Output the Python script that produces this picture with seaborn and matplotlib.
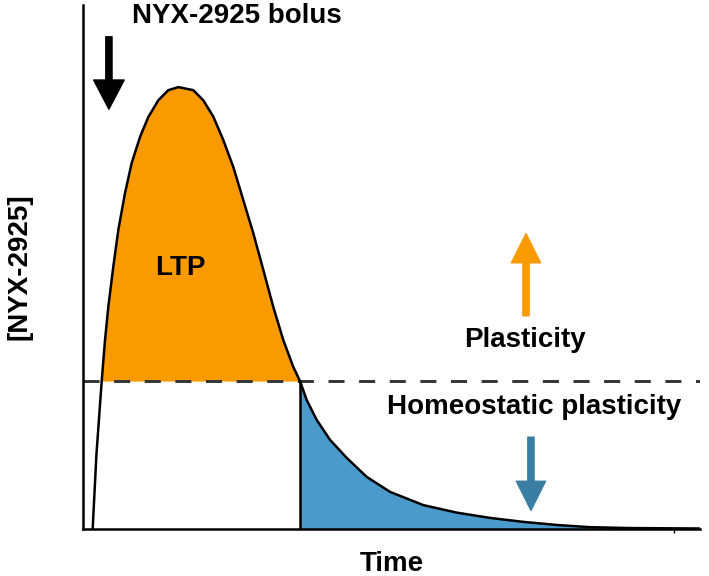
import numpy as np
import pandas as pd
import matplotlib.pyplot as plt
import seaborn as sns

# curve (arbitrary time / concentration units)
time = [0.157, 0.217, 0.303, 0.357, 0.410, 0.491, 0.572, 0.681, 0.789, 0.924,
        1.058, 1.220, 1.382, 1.545, 1.788, 1.950, 2.112, 2.274, 2.436, 2.598,
        2.760, 2.922, 3.084, 3.246, 3.408, 3.517, 3.626, 3.788, 4.003, 4.274,
        4.598, 4.976, 5.515, 6.057, 6.596, 7.136, 7.677, 8.217, 8.865, 10.000]
conc = [0.000, 0.166, 0.334, 0.427, 0.502, 0.593, 0.676, 0.760, 0.828, 0.887,
        0.932, 0.970, 0.993, 1.000, 0.993, 0.970, 0.933, 0.880, 0.819, 0.744,
        0.669, 0.586, 0.502, 0.427, 0.366, 0.334, 0.291, 0.246, 0.201, 0.160,
        0.117, 0.083, 0.053, 0.036, 0.024, 0.015, 0.008, 0.003, 0.001, 0.000]
threshold = 0.334
t_cross = 3.517

df = pd.DataFrame({'Time': time, 'Conc': conc})
t = df['Time'].to_numpy()
c = df['Conc'].to_numpy()

orange = '#F99A00'
blue_fill = '#4A9BCB'
blue_arrow = '#3B7EA3'

sns.set_style('white')
plt.rcParams['font.family'] = ['Liberation Sans', 'DejaVu Sans']
plt.rcParams['text.color'] = 'black'
plt.rcParams['axes.labelcolor'] = 'black'

fig, ax = plt.subplots(figsize=(7.09, 5.76), dpi=100)
fig.subplots_adjust(left=83/709, right=700/709, bottom=1-528.5/576, top=1-5/576)

# LTP area above threshold, homeostatic area after crossing
ax.fill_between(t, c, threshold, where=c >= threshold, interpolate=True,
                color=orange, lw=0, zorder=1)
ax.fill_between(t, c, 0, where=t >= t_cross, interpolate=True,
                color=blue_fill, lw=0, zorder=1)

ax.axhline(threshold, color='#333333', lw=2.1, ls=(0, (5.5, 5)), zorder=2)
ax.vlines(t_cross, 0, threshold, color='black', lw=1.8, zorder=3)

sns.lineplot(data=df, x='Time', y='Conc', color='black', lw=1.8,
             estimator=None, sort=True, ax=ax, zorder=4)

ax.set_xlim(0, 10)
ax.set_ylim(0, 1.186)

# arrows
ax.annotate('', xy=(0.42, 0.95), xytext=(0.42, 1.114),
            arrowprops=dict(width=4.5, headwidth=22, headlength=21,
                            color='black', shrink=0))
ax.annotate('', xy=(7.18, 0.668), xytext=(7.18, 0.482),
            arrowprops=dict(width=4.5, headwidth=21, headlength=21,
                            color=orange, shrink=0))
ax.annotate('', xy=(7.26, 0.041), xytext=(7.26, 0.207),
            arrowprops=dict(width=4.5, headwidth=21, headlength=21,
                            color=blue_arrow, shrink=0))

# text
ax.text(2.50, 1.162, 'NYX-2925 bolus', fontsize=20, fontweight='bold',
        ha='center', va='center')
ax.text(1.572, 0.591, 'LTP', fontsize=20, fontweight='bold',
        ha='center', va='center')
ax.text(7.16, 0.427, 'Plasticity', fontsize=20, fontweight='bold',
        ha='center', va='center')
ax.text(7.31, 0.275, 'Homeostatic plasticity', fontsize=20, fontweight='bold',
        ha='center', va='center')

ax.set_xlabel('Time', fontsize=20, fontweight='bold', labelpad=10)
ax.set_ylabel('[NYX-2925]', fontsize=20, fontweight='bold', labelpad=36)

ax.set_xticks([9.58])
ax.set_xticklabels([''])
ax.set_yticks([])
ax.tick_params(axis='x', direction='out', length=3, width=1, color='black', bottom=True)

for side in ['top', 'right']:
    ax.spines[side].set_visible(False)
for side in ['left', 'bottom']:
    ax.spines[side].set_color('black')
    ax.spines[side].set_linewidth(1.8)

plt.savefig('out.png', dpi=100)
